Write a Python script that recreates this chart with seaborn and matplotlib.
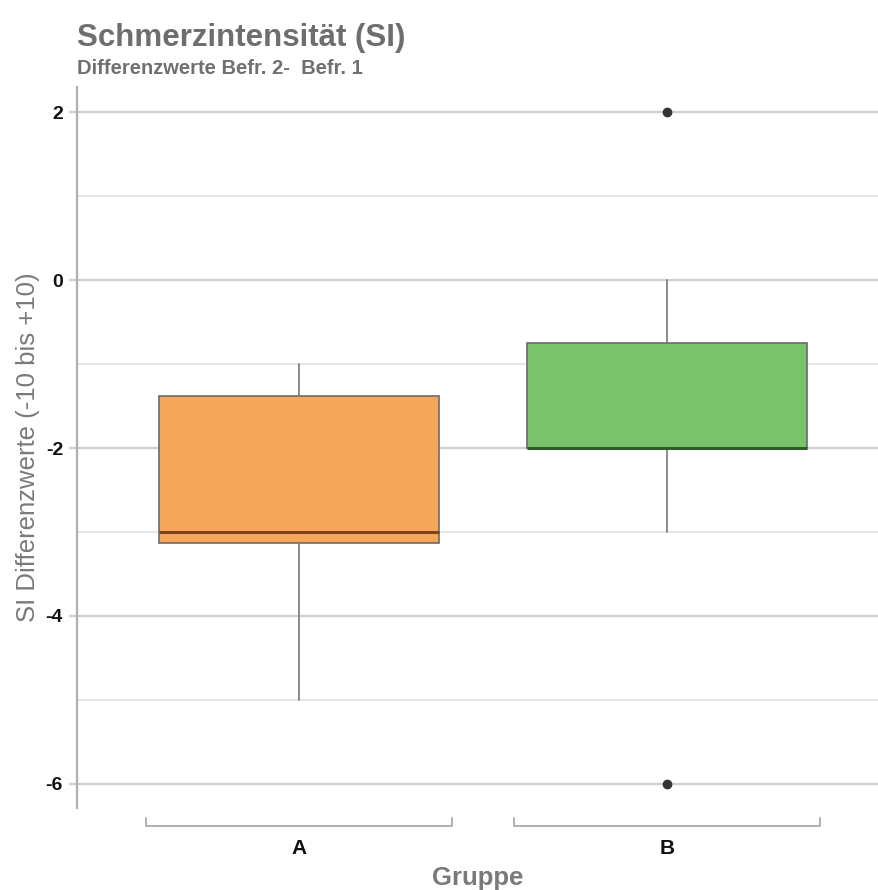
import matplotlib
matplotlib.use("Agg")
import matplotlib.pyplot as plt
import seaborn as sns

# box statistics
groups = ["A", "B"]
q1 = [-3.13, -2.0]
median = [-3.0, -2.0]
q3 = [-1.38, -0.75]
whisker_low = [-5.0, -3.0]
whisker_high = [-1.0, 0.0]
outliers = [[], [2.0, -6.0]]
box_colors = ["#F6A65B", "#79C36A"]
median_colors = ["#7E4415", "#2E5A2A"]

major_ticks = [2, 0, -2, -4, -6]
minor_ticks = [1, -1, -3, -5]

sns.set_theme(style="white")
plt.rcParams["font.family"] = ["Liberation Sans", "DejaVu Sans"]

fig = plt.figure(figsize=(8.79, 8.90), dpi=100)
ax = fig.add_axes([0.0876, 0.092, 0.9124, 0.81])

stats = []
for i, g in enumerate(groups):
    stats.append({"label": g, "q1": q1[i], "med": median[i], "q3": q3[i],
                  "whislo": whisker_low[i], "whishi": whisker_high[i],
                  "fliers": outliers[i]})

positions = list(range(len(groups)))
bp = ax.bxp(stats, positions=positions, widths=0.76, patch_artist=True,
            showcaps=False, zorder=3,
            whiskerprops=dict(color="#777777", linewidth=1.2),
            flierprops=dict(marker="o", markersize=6, markerfacecolor="#333333",
                            markeredgecolor="#333333"))
for i, box in enumerate(bp["boxes"]):
    box.set_facecolor(box_colors[i])
    box.set_edgecolor("#6b6b6b")
    box.set_linewidth(1.2)
for i, med in enumerate(bp["medians"]):
    med.set_color(median_colors[i])
    med.set_linewidth(2.2)

ax.set_xlim(-0.603, 1.576)
ax.set_ylim(-6.29, 2.3)

ax.set_yticks(major_ticks)
ax.set_yticklabels([str(t) for t in major_ticks], fontweight="bold", fontsize=14, color="#111111")
ax.set_yticks(minor_ticks, minor=True)
ax.grid(True, axis="y", which="major", color="#cfcfcf", linewidth=1.6, zorder=0)
ax.grid(True, axis="y", which="minor", color="#e0e0e0", linewidth=1.1, zorder=0)
ax.tick_params(axis="y", which="major", length=6, width=1.6, color="#cfcfcf", pad=4, left=True)
ax.tick_params(axis="y", which="minor", length=0)

ax.set_xticks(positions)
ax.set_xticklabels(groups, fontweight="bold", fontsize=15, color="#111111")
ax.tick_params(axis="x", length=0, pad=22)

sns.despine(ax=ax, top=True, right=True, bottom=True)
ax.spines["left"].set_color("#b0b0b0")
ax.spines["left"].set_linewidth(1.6)

# bracket under each group
trans = ax.get_xaxis_transform()
for p in positions:
    x0, x1 = p - 0.415, p + 0.415
    ax.plot([x0, x0, x1, x1], [-0.014, -0.025, -0.025, -0.014], transform=trans,
            color="#b0b0b0", linewidth=1.4, clip_on=False)

ax.set_xlabel("Gruppe", fontsize=18.5, fontweight="bold", color="#7a7a7a", labelpad=6)
ax.set_ylabel("SI Differenzwerte (-10 bis +10)", fontsize=18.5, color="#7a7a7a", labelpad=4)

fig.text(0.0876, 0.957, "Schmerzintensität (SI)", fontsize=22.5, fontweight="bold",
         color="#6e6e6e", va="center", ha="left")
fig.text(0.0876, 0.923, "Differenzwerte Befr. 2-  Befr. 1", fontsize=14.5, fontweight="bold",
         color="#707070", va="center", ha="left")

fig.savefig("out.png", dpi=100)
